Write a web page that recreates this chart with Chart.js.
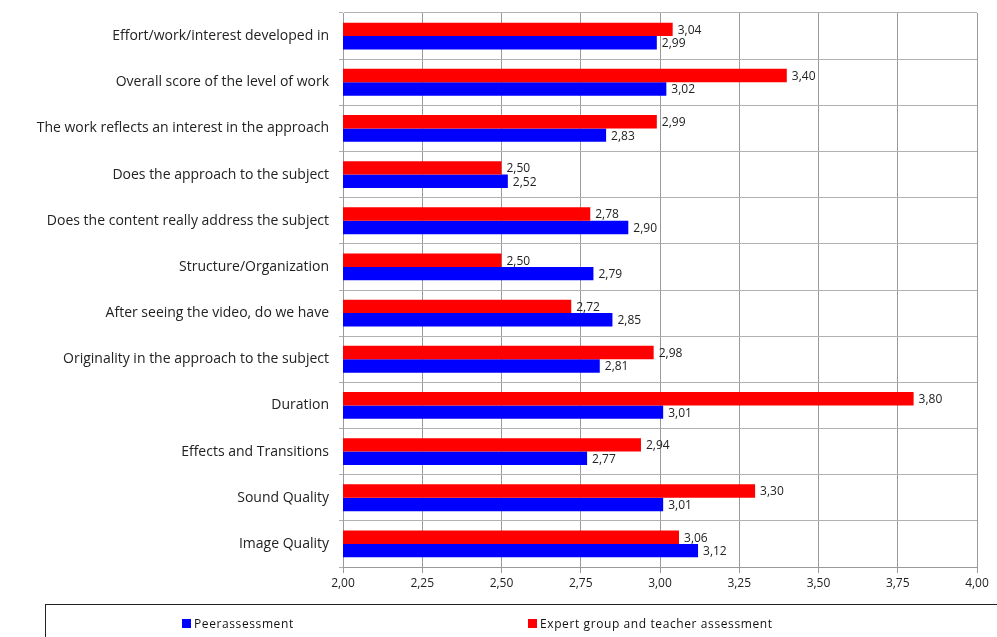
<!DOCTYPE html>
<html>
<head>
<meta charset="utf-8">
<script src="https://cdn.jsdelivr.net/npm/chart.js@4"></script>
<style>
  html, body { margin: 0; padding: 0; background: #fff; overflow: hidden; }
  #wrap { position: relative; width: 997px; height: 637px; }
  #legend {
    position: absolute; left: 45px; top: 604px; width: 1000px; height: 60px;
    border: 1px solid #222; box-sizing: border-box;
    font-family: "Open Sans", sans-serif; font-size: 12px; color: #111; letter-spacing: 0.6px;
  }
  .item { position: absolute; top: 10px; display: flex; align-items: center; }
  .sw { width: 9px; height: 9px; margin-right: 3px; }
</style>
</head>
<body>
<div id="wrap">
  <canvas id="chart" width="997" height="637"></canvas>
  <div id="legend"></div>
</div>
<script>
// categories, top to bottom
const categories = [
  "Effort/work/interest developed in",
  "Overall score of the level of work",
  "The work reflects an interest in the approach",
  "Does the approach to the subject",
  "Does the content really address the subject",
  "Structure/Organization",
  "After seeing the video, do we have",
  "Originality in the approach to the subject",
  "Duration",
  "Effects and Transitions",
  "Sound Quality",
  "Image Quality"
];
const peerValues   = [2.99, 3.02, 2.83, 2.52, 2.90, 2.79, 2.85, 2.81, 3.01, 2.77, 3.01, 3.12];
const expertValues = [3.04, 3.40, 2.99, 2.50, 2.78, 2.50, 2.72, 2.98, 3.80, 2.94, 3.30, 3.06];
const seriesNames  = ["Peerassessment", "Expert group and teacher assessment"];
const xTicks = [2.00, 2.25, 2.50, 2.75, 3.00, 3.25, 3.50, 3.75, 4.00];

const fmt = (v) => v.toFixed(2).replace(".", ",");

// draws the numbers next to the bar ends
const valueLabels = {
  id: "valueLabels",
  afterDatasetsDraw(chart) {
    const ctx = chart.ctx;
    ctx.save();
    ctx.font = "12px 'Open Sans', sans-serif";
    ctx.fillStyle = "#222";
    ctx.textAlign = "left";
    ctx.textBaseline = "middle";
    chart.data.datasets.forEach((ds, i) => {
      chart.getDatasetMeta(i).data.forEach((bar, j) => {
        ctx.fillText(fmt(ds.data[j]), bar.x + 5, bar.y + 1);
      });
    });
    ctx.restore();
  }
};

const datasets = [
  { label: seriesNames[1], data: expertValues, backgroundColor: "#ff0000" },
  { label: seriesNames[0], data: peerValues, backgroundColor: "#0000ff" }
];

new Chart(document.getElementById("chart"), {
  type: "bar",
  data: { labels: categories, datasets: datasets },
  plugins: [valueLabels],
  options: {
    indexAxis: "y",
    responsive: false,
    animation: false,
    layout: { padding: { left: 0, top: 13, right: 20, bottom: 40 } },
    datasets: { bar: { categoryPercentage: 0.58, barPercentage: 1.0 } },
    plugins: {
      legend: { display: false },
      tooltip: { enabled: false }
    },
    scales: {
      x: {
        min: 2, max: 4,
        afterBuildTicks: (scale) => { scale.ticks = xTicks.map((v) => ({ value: v })); },
        afterFit: (scale) => { scale.height = 30; },
        grid: { color: "#9a9a9a", tickLength: 6 },
        border: { color: "#9a9a9a" },
        ticks: {
          padding: 3,
          color: "#222",
          font: { family: "'Open Sans', sans-serif", size: 12 },
          callback: (v) => fmt(v)
        }
      },
      y: {
        afterFit: (scale) => {
          scale.width = 343;
          // labels sit inside the category bands, no extra room needed
          scale.paddingTop = 0;
          scale.paddingBottom = 0;
        },
        grid: { color: "#b0b0b0", tickLength: 4 },
        border: { color: "#9a9a9a" },
        ticks: {
          padding: 10,
          color: "#222",
          font: { family: "'Open Sans', sans-serif", size: 14 }
        }
      }
    }
  }
});

// legend drawn under the chart, same order as the original
const legend = document.getElementById("legend");
[[seriesNames[0], "#0000ff", 136], [seriesNames[1], "#ff0000", 482]].forEach(([name, color, left]) => {
  const el = document.createElement("div");
  el.className = "item";
  el.style.left = left + "px";
  el.innerHTML = '<span class="sw" style="background:' + color + '"></span><span>' + name + "</span>";
  legend.appendChild(el);
});
</script>
</body>
</html>
